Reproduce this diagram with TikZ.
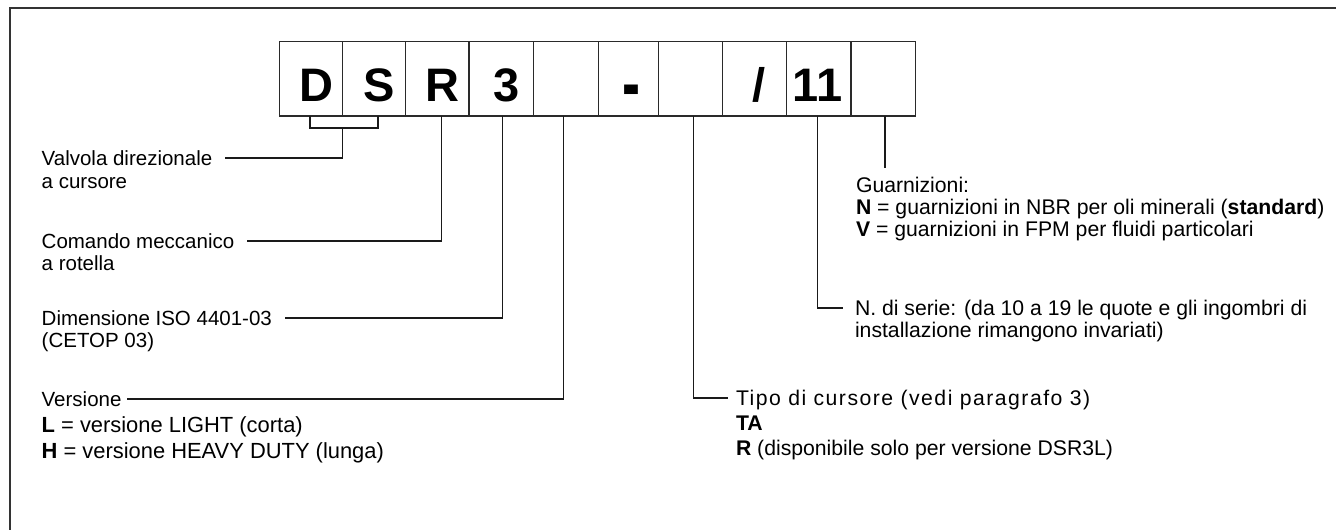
\documentclass[tikz,border=0pt]{standalone}
\usepackage{fontspec}
\setmainfont{Liberation Sans}
\newfontfamily\spacedfont[LetterSpace=7]{Liberation Sans}
\usetikzlibrary{calc}
\definecolor{boxcol}{HTML}{2A2A2A}
\definecolor{framecol}{HTML}{333333}
\definecolor{linecol}{HTML}{1A1A1A}
\begin{document}
\begin{tikzpicture}[x=1pt,y=-1pt,
  cell/.style={draw=boxcol, line width=1.4pt, minimum height=74.3pt, inner sep=0pt, outer sep=0pt,
    font=\fontsize{47}{47}\selectfont\bfseries, text height=44.3pt, text depth=0pt},
  lbl/.style={anchor=west, inner sep=0pt, outer sep=0pt, font=\fontsize{20.5}{22}\selectfont,
    text height=15pt, text depth=0pt},
  rlbl/.style={lbl, font=\fontsize{21.2}{22}\selectfont},
  vlbl/.style={lbl, font=\fontsize{21.9}{22}\selectfont},
  conn/.style={draw=linecol, line width=1.3pt}
]
\useasboundingbox (0,0) rectangle (1336,530);
\draw[framecol, line width=2pt] (10,540) -- (10,8) -- (1346,8);

% code boxes
\node[cell, minimum width=63.4pt] (b1) at (311,78.85) {\hspace*{10pt}D};
\node[cell, minimum width=63pt] (b2) at (374.2,78.85) {\hspace*{9pt}S};
\node[cell, minimum width=63.3pt] (b3) at (437.35,78.85) {\hspace*{11pt}R};
\node[cell, minimum width=64.3pt] (b4) at (501.15,78.85) {\hspace*{10pt}3};
\node[cell, minimum width=65pt] (b5) at (565.8,78.85) {};
\node[cell, minimum width=60pt] (b6) at (628.3,78.85) {\hspace*{7pt}\raisebox{-9.5pt}{\scalebox{1.15}[1.7]{-}}};
\node[cell, minimum width=64.4pt] (b7) at (690.5,78.85) {};
\node[cell, minimum width=64pt] (b8) at (754.7,78.85) {\hspace*{8pt}/};
\node[cell, minimum width=64.3pt] (b9) at (818.85,78.85) {11\hspace*{3pt}};
\node[cell, minimum width=64.7pt] (b10) at (883.35,78.85) {};

% left labels
\node[lbl] (l1a) at (41.7,158) {Valvola direzionale};
\node[lbl] (l1b) at (41.7,181) {a cursore};
\node[lbl] (l2a) at (41.7,241) {Comando meccanico};
\node[lbl] (l2b) at (41.7,263) {a rotella};
\node[lbl] (l3a) at (41.7,318) {Dimensione ISO 4401-03};
\node[lbl] (l3b) at (41.7,340) {(CETOP 03)};
\node[lbl] (l4a) at (41.7,399) {Versione};
\node[vlbl] (l4b) at (41.7,425) {\textbf{L} = versione LIGHT (corta)};
\node[vlbl] (l4c) at (41.7,451) {\textbf{H} = versione HEAVY DUTY (lunga)};

% right labels
\node[rlbl] (r1a) at (856,185) {Guarnizioni:};
\node[rlbl] (r1b) at (856,207) {\textbf{N} = guarnizioni in NBR per oli minerali (\textbf{standard})};
\node[rlbl] (r1c) at (856,229) {\textbf{V} = guarnizioni in FPM per fluidi particolari};
\node[rlbl] (r2a) at (855,308) {N. di serie: (da 10 a 19 le quote e gli ingombri di};
\node[rlbl] (r2b) at (855,330) {installazione rimangono invariati)};
\node[rlbl] (r3a) at (736,398) {\spacedfont Tipo di cursore (vedi paragrafo 3)};
\node[rlbl] (r3b) at (736,423) {\textbf{TA}};
\node[rlbl] (r3c) at (736,448) {\textbf{R} (disponibile solo per versione DSR3L)};

% connectors
\draw[conn] ($(b1.south)+(-1,0)$) -- ++(0,12) coordinate (bk1) -| ($(b2.south)+(3.8,0)$);
\draw[conn] (b1.south east |- bk1) |- ($(l1a.east)+(13,0)$);
\draw[conn] ($(b3.south)+(4.3,0)$) |- ($(l2a.east)+(13,0)$);
\draw[conn] ($(b4.south)+(1.5,0)$) |- ($(l3a.east)+(13,0)$);
\draw[conn] ($(b5.south)+(-2.5,0)$) |- ($(l4a.east)+(6,0)$);
\draw[conn] ($(b7.south)+(2.8,0)$) |- ($(r3a.west)+(-8,0)$);
\draw[conn] ($(b9.south)+(-1.2,0)$) |- ($(r2a.west)+(-12,0)$);
\draw[conn] ($(b10.south)+(1.6,0)$) -- ++(0,52) coordinate (gend);
\end{tikzpicture}
\end{document}
